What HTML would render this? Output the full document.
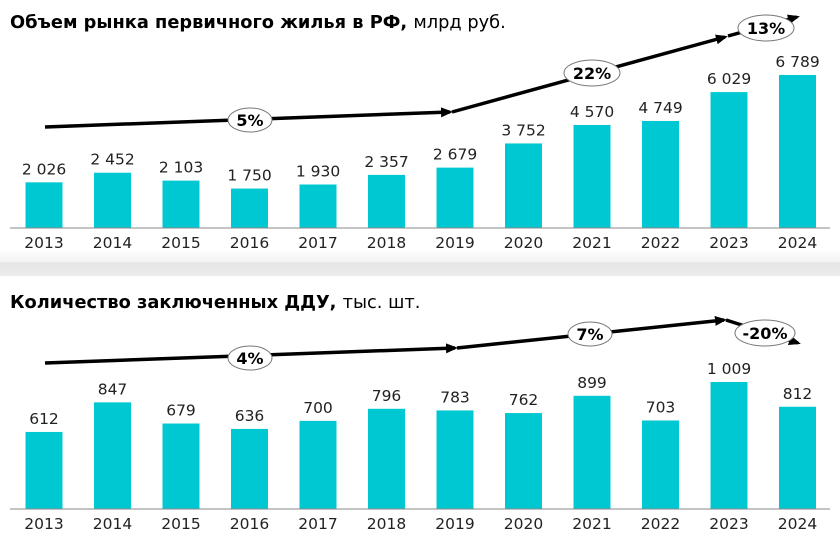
<!DOCTYPE html><html><head><meta charset="utf-8"><style>
body{margin:0;width:840px;height:538px;background:#fff;overflow:hidden;font-family:"DejaVu Sans","Liberation Sans",sans-serif}
</style></head><body>
<svg width="840" height="538" xmlns="http://www.w3.org/2000/svg" font-family="DejaVu Sans, Liberation Sans, sans-serif">
<defs>
<linearGradient id="g" x1="0" y1="0" x2="0" y2="1"><stop offset="0" stop-color="#fff"/><stop offset="0.45" stop-color="#f3f3f3"/><stop offset="0.5" stop-color="#e6e6e6"/><stop offset="1" stop-color="#ececec"/></linearGradient>
<marker id="a" markerWidth="12" markerHeight="10" refX="9" refY="5" orient="auto" markerUnits="userSpaceOnUse"><path d="M0,0 L12,5 L0,10 z" fill="#000"/></marker>
</defs>
<rect x="0" y="250" width="840" height="26" fill="url(#g)"/>
<text x="10" y="28" font-size="17.8" font-weight="bold">Объем рынка первичного жилья в РФ, <tspan font-weight="normal">млрд руб.</tspan></text>
<text x="10" y="308" font-size="17.8" font-weight="bold">Количество заключенных ДДУ, <tspan font-weight="normal">тыс. шт.</tspan></text>
<g id="bars"></g>
<line x1="10" y1="228" x2="830" y2="228" stroke="#888" stroke-width="1"/>
<line x1="10" y1="509" x2="830" y2="509" stroke="#888" stroke-width="1"/>
<g stroke="#000" stroke-width="3.5" fill="none">
<line x1="45" y1="127" x2="450" y2="112" marker-end="url(#a)"/>
<line x1="452" y1="112" x2="725" y2="37" marker-end="url(#a)"/>
<line x1="728" y1="36" x2="797" y2="17" marker-end="url(#a)"/>
<line x1="45" y1="363" x2="455" y2="348" marker-end="url(#a)"/>
<line x1="457" y1="348" x2="724" y2="320" marker-end="url(#a)"/>
<line x1="726" y1="320" x2="798" y2="343" marker-end="url(#a)"/>
</g>
<g fill="#fff" stroke="#777" stroke-width="1">
<ellipse cx="250" cy="120" rx="22" ry="12"/><ellipse cx="592" cy="73" rx="28" ry="13"/><ellipse cx="766" cy="28" rx="28" ry="13"/>
<ellipse cx="250" cy="358" rx="22" ry="12"/><ellipse cx="590" cy="334" rx="22" ry="12"/><ellipse cx="765" cy="333" rx="30" ry="13"/>
</g>
<g font-size="16" font-weight="bold" text-anchor="middle">
<text x="250" y="126">5%</text><text x="592" y="79">22%</text><text x="766" y="34">13%</text>
<text x="250" y="364">4%</text><text x="590" y="340">7%</text><text x="765" y="339">-20%</text>
</g>
<g id="t" font-size="15.5" text-anchor="middle" fill="#222"></g>
</svg>
<script>
var v1=[2026,2452,2103,1750,1930,2357,2679,3752,4570,4749,6029,6789],l1=["2 026","2 452","2 103","1 750","1 930","2 357","2 679","3 752","4 570","4 749","6 029","6 789"];
var v2=[612,847,679,636,700,796,783,762,899,703,1009,812],l2=["612","847","679","636","700","796","783","762","899","703","1 009","812"];
var b=document.getElementById('bars'),t=document.getElementById('t'),s='',u='';
for(var i=0;i<12;i++){var cx=44+i*68.5;
var h=v1[i]*0.02254;s+='<rect x="'+(cx-18.5)+'" y="'+(228-h)+'" width="37" height="'+h+'" fill="#00C8D2"/>';
u+='<text x="'+cx+'" y="'+(228-h-8)+'">'+l1[i]+'</text><text x="'+cx+'" y="248">'+(2013+i)+'</text>';
h=v2[i]*0.1259;s+='<rect x="'+(cx-18.5)+'" y="'+(509-h)+'" width="37" height="'+h+'" fill="#00C8D2"/>';
u+='<text x="'+cx+'" y="'+(509-h-8)+'">'+l2[i]+'</text><text x="'+cx+'" y="529">'+(2013+i)+'</text>';}
b.innerHTML=s;t.innerHTML=u;
</script>
</body></html>
